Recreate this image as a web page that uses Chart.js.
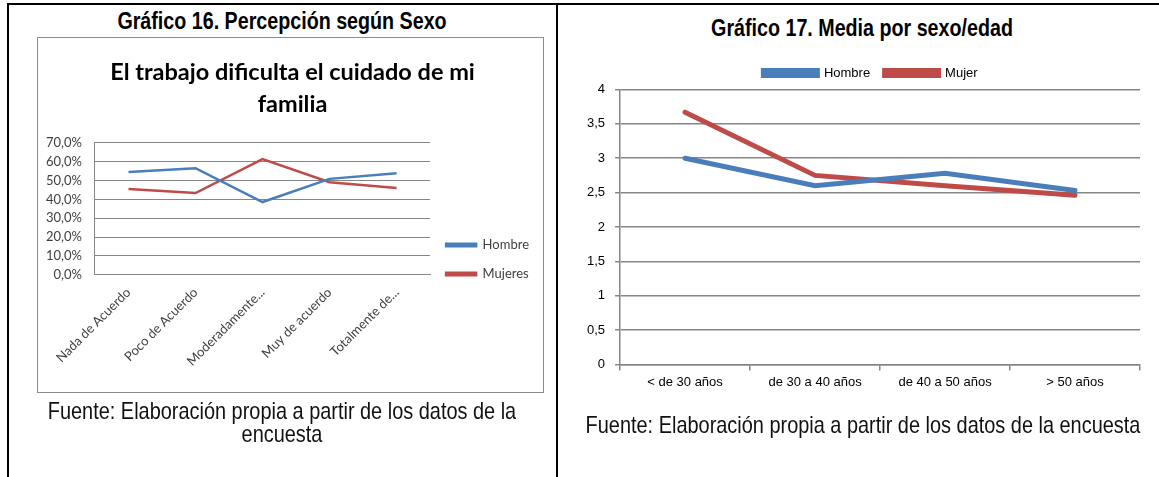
<!DOCTYPE html>
<html>
<head>
<meta charset="utf-8">
<script src="https://cdn.jsdelivr.net/npm/chart.js@4.4.0/dist/chart.umd.min.js"></script>
<style>
  body { margin: 0; width: 1159px; height: 477px; background: #fff; position: relative; overflow: hidden;
         font-family: "Liberation Sans", Arial, sans-serif; }
  .frame { position: absolute; background: #000; }
  .caption { position: absolute; text-align: center; font-weight: bold; font-size: 24px; line-height: 22px;
             transform: scaleX(0.82); transform-origin: center; white-space: nowrap; }
  .source { position: absolute; text-align: center; font-size: 24px; line-height: 23px; color: #111;
            transform: scaleX(0.83); transform-origin: center; white-space: nowrap; }
  #box16 { position: absolute; left: 37px; top: 37px; width: 505px; height: 354px; border: 1px solid #8c8c8c; }
  #box17 { position: absolute; left: 562px; top: 52px; width: 594px; height: 346px; }
</style>
</head>
<body>
  <!-- marco de la tabla -->
  <div class="frame" style="left:7px; top:3px; width:1152px; height:2px;"></div>
  <div class="frame" style="left:7px; top:3px; width:2px; height:474px;"></div>
  <div class="frame" style="left:556px; top:3px; width:2px; height:474px;"></div>

  <!-- divs anchos y centrados para que el scaleX no desplace el texto -->
  <div class="caption" style="left:-118px; width:800px; top:10px;">Gráfico 16. Percepción según Sexo</div>
  <div class="caption" style="left:462px; width:800px; top:17px;">Gráfico 17. Media por sexo/edad</div>

  <div id="box16"><canvas id="chart16"></canvas></div>
  <div id="box17"><canvas id="chart17"></canvas></div>

  <div class="source" style="left:-118px; width:800px; top:399px;">Fuente: Elaboración propia a partir de los datos de la<br>encuesta</div>
  <div class="source" style="left:463px; width:800px; top:413px;">Fuente: Elaboración propia a partir de los datos de la encuesta</div>

<script>
  // Gráfico 16 - percepción según sexo (%)
  const categorias16 = ['Nada de Acuerdo', 'Poco de Acuerdo', 'Moderadamente...', 'Muy de acuerdo', 'Totalmente de...'];
  const hombre16 = [54.5, 56.6, 38.6, 50.9, 53.9];
  const mujeres16 = [45.5, 43.4, 61.4, 49.1, 46.1];
  const ticks16 = [0, 10, 20, 30, 40, 50, 60, 70];

  // Gráfico 17 - media por sexo/edad
  const edades17 = ['< de 30 años', 'de 30 a 40 años', 'de 40 a 50 años', '> 50 años'];
  const hombre17 = [3.0, 2.6, 2.78, 2.53];
  const mujer17 = [3.67, 2.75, 2.6, 2.46];

  const sans = '"Liberation Sans", Arial, sans-serif';
  const azul = '#4a7ebb';
  const rojo = '#be4b48';

  // mueve la leyenda ya colocada (Excel no la centra igual que Chart.js)
  const legendShift = {
    id: 'legendShift',
    afterLayout(chart, args, opts) {
      if (!chart.legend) return;
      const dx = opts.dx || 0;
      const dy = opts.dy || 0;
      chart.legend.left += dx;
      chart.legend.right += dx;
      chart.legend.top += dy;
      chart.legend.bottom += dy;
    },
  };

  new Chart(document.getElementById('chart16'), {
    type: 'line',
    data: {
      labels: categorias16,
      datasets: [
        { label: 'Hombre', data: hombre16, borderColor: azul, backgroundColor: azul, borderWidth: 2.5, pointRadius: 0, tension: 0 },
        { label: 'Mujeres', data: mujeres16, borderColor: rojo, backgroundColor: rojo, borderWidth: 2.5, pointRadius: 0, tension: 0 },
      ],
    },
    plugins: [legendShift],
    options: {
      responsive: true,
      maintainAspectRatio: false,
      animation: false,
      layout: { padding: { left: 8, right: 4, top: 0, bottom: 13 } },
      plugins: {
        legendShift: { dy: 51 },
        title: {
          display: true,
          text: ['El trabajo dificulta el cuidado de mi', 'familia'],
          color: '#000',
          font: { family: 'Lato', size: 23.5, weight: 'bold', lineHeight: 1.36 },
          padding: { top: 18, bottom: 23 },
        },
        legend: {
          position: 'right',
          labels: { boxWidth: 30, boxHeight: 2.5, color: '#404040', font: { family: 'Lato', size: 13 }, padding: 16 },
        },
        tooltip: { enabled: false },
      },
      scales: {
        x: {
          offset: true,
          grid: { display: false, drawTicks: false },
          border: { color: '#868686' },
          ticks: { maxRotation: 45, minRotation: 45, padding: 10, color: '#404040', font: { family: 'Lato', size: 13 } },
          // las etiquetas giradas pueden salirse hacia la izquierda, como en Excel
          afterFit: (axis) => { axis.paddingLeft = 0; axis.paddingRight = 0; },
        },
        y: {
          min: 0,
          max: 70,
          afterBuildTicks: (axis) => { axis.ticks = ticks16.map((v) => ({ value: v })); },
          // Chart.js reserva el padding a ambos lados de la etiqueta; sólo queremos el de la derecha
          afterFit: (axis) => { axis.width -= 13; },
          grid: { color: '#868686', drawTicks: false },
          border: { color: '#868686' },
          ticks: {
            autoSkip: false,
            padding: 13,
            color: '#404040',
            font: { family: 'Lato', size: 13 },
            callback: (v) => v.toFixed(1).replace('.', ',') + '%',
          },
        },
      },
    },
  });

  new Chart(document.getElementById('chart17'), {
    type: 'line',
    data: {
      labels: edades17,
      datasets: [
        { label: 'Hombre', data: hombre17, borderColor: azul, backgroundColor: azul, borderWidth: 5, pointRadius: 0, tension: 0, borderCapStyle: 'round' },
        { label: 'Mujer', data: mujer17, borderColor: rojo, backgroundColor: rojo, borderWidth: 5, pointRadius: 0, tension: 0, borderCapStyle: 'round' },
      ],
    },
    plugins: [legendShift],
    options: {
      responsive: true,
      maintainAspectRatio: false,
      animation: false,
      layout: { padding: { left: 15, right: 16, top: 0, bottom: 4 } },
      plugins: {
        legendShift: { dx: 12 },
        legend: {
          position: 'top',
          labels: { boxWidth: 54, boxHeight: 5, color: '#000', font: { family: sans, size: 13 }, padding: 14.5 },
        },
        tooltip: { enabled: false },
      },
      scales: {
        x: {
          offset: true,
          grid: { offset: true, drawOnChartArea: false, tickLength: 6, color: '#868686', lineWidth: 1.5 },
          border: { color: '#868686', width: 1.5 },
          ticks: { padding: 4, color: '#000', font: { family: sans, size: 13 } },
        },
        y: {
          min: 0,
          max: 4,
          ticks: {
            stepSize: 0.5,
            padding: 10,
            color: '#000',
            font: { family: sans, size: 13 },
            callback: (v) => String(v).replace('.', ','),
          },
          grid: { color: '#868686', lineWidth: 1.5, tickLength: 5 },
          border: { color: '#868686', width: 1.5 },
        },
      },
    },
  });
</script>
</body>
</html>
